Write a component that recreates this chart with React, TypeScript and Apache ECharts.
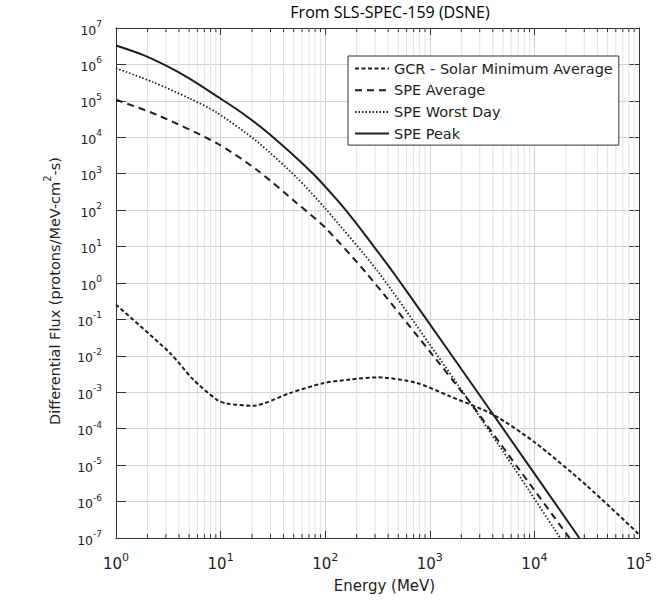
import { useEffect, useRef } from "react";
import * as echarts from "echarts";

const FONT = "'DejaVu Sans', sans-serif";
const TITLE_FONT = "'Open Sans', sans-serif";
const INK = "#1e1e1e";

// axis decades (exponents of 10)
const xDecades = [0, 1, 2, 3, 4, 5];
const yDecades = [-7, -6, -5, -4, -3, -2, -1, 0, 1, 2, 3, 4, 5, 6, 7];
const minorMultipliers = [2, 3, 4, 5, 6, 7, 8, 9];
const minorDecadeBases = [1, 10, 100, 1000, 10000];

// GCR - Solar Minimum Average
const gcrEnergy = [1, 3.28, 5.47, 9.16, 11.4, 20.5, 45.9, 95.5, 172, 320, 745, 1549, 4018, 10000, 31600, 100000];
const gcrFlux = [0.254, 0.012, 2.24e-3, 6.3e-4, 4.9e-4, 4.27e-4, 9.5e-4, 1.78e-3, 2.24e-3, 2.57e-3, 1.82e-3, 7.8e-4, 2.45e-4, 4.3e-5, 2.75e-6, 1.26e-7];

// SPE Average
const avgEnergy = [1, 2.45, 9.16, 22.1, 53.2, 100, 248, 1000, 2399, 7079, 21680];
const avgFlux = [1.07e5, 4.17e4, 6920, 1290, 158, 33.1, 1.86, 0.0132, 5.5e-4, 7.9e-6, 1e-7];

// SPE Worst Day
const worstEnergy = [1, 2.24, 5.1, 9.16, 22.1, 53.2, 100, 316, 1000, 2399, 6310, 17660];
const worstFlux = [7.9e5, 3.3e5, 1.15e5, 4.8e4, 7800, 794, 112, 2.14, 0.0204, 5.5e-4, 8.9e-6, 1e-7];

// SPE Peak
const peakEnergy = [1, 1.78, 3.05, 5.1, 9.16, 15.8, 29.8, 76.6, 128, 186, 267, 414, 656, 4018, 26900];
const peakFlux = [3.3e6, 1.86e6, 9.1e5, 4.0e5, 1.35e5, 4.8e4, 1.17e4, 1000, 200, 55, 14.1, 2.63, 0.417, 2.5e-4, 1e-7];

const seriesNames = ["GCR - Solar Minimum Average", "SPE Average", "SPE Worst Day", "SPE Peak"];

const X_MIN = xDecades[0];
const X_MAX = xDecades[xDecades.length - 1];
const Y_MIN = yDecades[0];
const Y_MAX = yDecades[yDecades.length - 1];

const toLogPairs = (e: number[], f: number[]) => e.map((v, i) => [Math.log10(v), Math.log10(f[i])]);

const minorEnergy: number[] = [];
minorDecadeBases.forEach((b) => minorMultipliers.forEach((m) => minorEnergy.push(b * m)));

const powLabel = (v: number) => `{b|10}{s|${Math.round(v)}}`;

function buildOption(): any {
  const lineBase = (name: string, data: number[][], dash: any, width: number) => ({
    name,
    type: "line",
    data,
    symbol: "none",
    showSymbol: false,
    smooth: 0.25,
    z: 3,
    color: INK,
    lineStyle: { color: INK, width, type: dash },
    emphasis: { disabled: true },
  });

  const axisCommon = {
    axisLine: { show: true, onZero: false, lineStyle: { color: "#333", width: 1 } },
  };

  return {
    animation: false,
    backgroundColor: "#ffffff",
    grid: { left: 116, top: 28, right: 24, bottom: 63, containLabel: false },
    graphic: [
      {
        type: "text",
        x: 390,
        y: 12,
        style: {
          text: "From SLS-SPEC-159 (DSNE)",
          font: `16px ${TITLE_FONT}`,
          fill: "#000",
          align: "center",
          verticalAlign: "middle",
        },
      },
    ],
    legend: {
      orient: "vertical",
      left: 348,
      top: 56,
      data: seriesNames,
      itemWidth: 34,
      itemHeight: 14,
      itemGap: 6.7,
      padding: [5, 6, 4, 6],
      borderColor: "#333",
      borderWidth: 1,
      backgroundColor: "#fff",
      selectedMode: false,
      itemStyle: { color: "rgba(0,0,0,0)", borderWidth: 0, opacity: 0 },
      textStyle: { fontFamily: FONT, fontSize: 14.5, color: "#222" },
    },
    xAxis: [
      {
        ...axisCommon,
        type: "value",
        position: "bottom",
        min: X_MIN,
        max: X_MAX,
        interval: 1,
        name: "Energy (MeV)",
        nameLocation: "middle",
        nameGap: 40,
        nameTextStyle: { fontFamily: FONT, fontSize: 15, color: "#222", padding: [0, 0, 0, 14] },
        axisTick: { show: true, inside: true, length: 7, lineStyle: { color: "#333" } },
        axisLabel: {
          margin: 14,
          formatter: powLabel,
          rich: {
            b: { fontFamily: FONT, fontSize: 15, color: "#222", verticalAlign: "bottom", padding: [4, 0, 0, 0] },
            s: { fontFamily: FONT, fontSize: 11, color: "#222", verticalAlign: "top" },
          },
        },
        splitLine: { show: true, lineStyle: { color: "#d2d2d2", width: 1 } },
      },
      {
        ...axisCommon,
        type: "value",
        position: "top",
        min: X_MIN,
        max: X_MAX,
        interval: 1,
        axisTick: { show: true, inside: true, length: 7, lineStyle: { color: "#333" } },
        axisLabel: { show: false },
        splitLine: { show: false },
      },
    ],
    yAxis: [
      {
        ...axisCommon,
        type: "value",
        position: "left",
        min: Y_MIN,
        max: Y_MAX,
        interval: 1,
        name: "{a|Differential Flux (protons/MeV-cm}{s|2}{a|-s)}",
        nameLocation: "middle",
        nameGap: 54,
        nameTextStyle: {
          padding: [0, 16, 0, 0],
          rich: {
            a: { fontFamily: FONT, fontSize: 14.5, color: "#222", verticalAlign: "bottom", padding: [5, 0, 0, 0] },
            s: { fontFamily: FONT, fontSize: 10, color: "#222", verticalAlign: "top" },
          },
        },
        axisTick: { show: true, inside: true, length: 10, lineStyle: { color: "#333" } },
        axisLabel: {
          margin: 14,
          formatter: powLabel,
          rich: {
            b: { fontFamily: FONT, fontSize: 12.5, color: "#222", verticalAlign: "bottom", padding: [4, 0, 0, 0] },
            s: { fontFamily: FONT, fontSize: 9, color: "#222", verticalAlign: "top" },
          },
        },
        splitLine: { show: true, lineStyle: { color: "#d2d2d2", width: 1 } },
      },
      {
        ...axisCommon,
        type: "value",
        position: "right",
        min: Y_MIN,
        max: Y_MAX,
        interval: 1,
        axisTick: { show: true, inside: true, length: 10, lineStyle: { color: "#333" } },
        axisLabel: { show: false },
        splitLine: { show: false },
      },
    ],
    series: [
      {
        type: "custom",
        name: "minor",
        silent: true,
        z: 1,
        clip: false,
        xAxisIndex: 0,
        yAxisIndex: 0,
        data: minorEnergy.map((v) => [Math.log10(v), 0]),
        encode: { x: 0, y: 1 },
        renderItem: (_params: any, api: any) => {
          const xv = api.value(0);
          const b = api.coord([xv, Y_MIN]);
          const t = api.coord([xv, Y_MAX]);
          return {
            type: "group",
            children: [
              {
                type: "line",
                shape: { x1: b[0], y1: b[1], x2: t[0], y2: t[1] },
                style: { stroke: "#e2e2e2", lineWidth: 1 },
              },
              {
                type: "line",
                shape: { x1: b[0], y1: b[1], x2: b[0], y2: b[1] - 4 },
                style: { stroke: "#333", lineWidth: 1 },
              },
              {
                type: "line",
                shape: { x1: t[0], y1: t[1], x2: t[0], y2: t[1] + 4 },
                style: { stroke: "#333", lineWidth: 1 },
              },
            ],
          };
        },
      },
      lineBase(seriesNames[0], toLogPairs(gcrEnergy, gcrFlux), [4, 2.5], 2),
      lineBase(seriesNames[1], toLogPairs(avgEnergy, avgFlux), [7, 5], 2),
      lineBase(seriesNames[2], toLogPairs(worstEnergy, worstFlux), [1.5, 2], 1.8),
      lineBase(seriesNames[3], toLogPairs(peakEnergy, peakFlux), "solid", 2),
    ],
  };
}

export default function App() {
  const ref = useRef<HTMLDivElement>(null);
  useEffect(() => {
    if (!ref.current) return;
    const chart = echarts.init(ref.current, null, { renderer: "svg" });
    chart.setOption(buildOption());
    return () => chart.dispose();
  }, []);
  return (
    <div
      ref={ref}
      style={{ position: "absolute", left: 0, top: 0, width: 663, height: 601, background: "#fff" }}
    />
  );
}
